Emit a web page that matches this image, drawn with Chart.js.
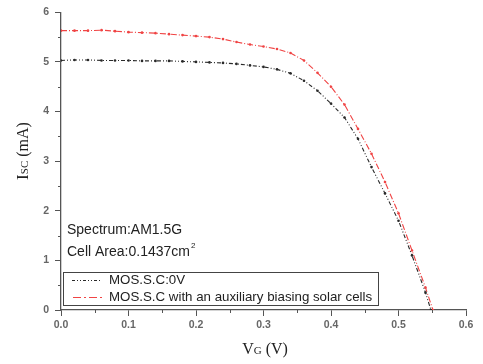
<!DOCTYPE html>
<html>
<head>
<meta charset="utf-8">
<script src="https://cdn.jsdelivr.net/npm/chart.js@4.4.0/dist/chart.umd.min.js"></script>
<style>
  html, body { margin: 0; padding: 0; background: #fff; }
  #wrap { width: 483px; height: 364px; }
</style>
</head>
<body>
<div id="wrap"><canvas id="iv-chart"></canvas></div>
<script>
// ---------------------------------------------------------------------------------------
// data

var v_black = [0, 0.02, 0.04, 0.06, 0.08, 0.10, 0.12, 0.14, 0.16, 0.18, 0.20, 0.22, 0.24, 0.26, 0.28, 0.30, 0.32, 0.34, 0.36, 0.38, 0.40, 0.42, 0.44, 0.46, 0.48, 0.50, 0.52, 0.54, 0.548];
var i_black = [5.03, 5.04, 5.04, 5.03, 5.03, 5.03, 5.02, 5.02, 5.02, 5.01, 5.00, 4.99, 4.98, 4.96, 4.93, 4.90, 4.85, 4.77, 4.62, 4.42, 4.16, 3.88, 3.45, 2.88, 2.35, 1.80, 1.10, 0.35, 0];

var v_red = [0, 0.02, 0.04, 0.06, 0.08, 0.10, 0.12, 0.14, 0.16, 0.18, 0.20, 0.22, 0.24, 0.26, 0.28, 0.30, 0.32, 0.34, 0.36, 0.38, 0.40, 0.42, 0.44, 0.46, 0.48, 0.50, 0.52, 0.54, 0.551];
var i_red = [5.63, 5.63, 5.63, 5.64, 5.62, 5.60, 5.59, 5.58, 5.56, 5.54, 5.52, 5.50, 5.46, 5.40, 5.35, 5.31, 5.26, 5.18, 5.03, 4.78, 4.50, 4.14, 3.65, 3.15, 2.58, 1.95, 1.20, 0.45, 0];

var legend_labels = ["MOS.S.C:0V", "MOS.S.C with an auxiliary biasing solar cells"];
var info_lines = ["Spectrum:AM1.5G", "Cell Area:0.1437cm"];

function toPoints(xs, ys) {
  var out = [];
  for (var k = 0; k < xs.length; k++) out.push({x: xs[k], y: ys[k]});
  return out;
}

var black = '#2a2a2a';
var red = '#f04444';
var axisColor = '#555';

// major ticks long, minor ticks hidden here and drawn short by the plugin
function tickColor(ctx) { return ctx.index % 2 ? 'rgba(0,0,0,0)' : axisColor; }

// ---------------------------------------------------------------------------------------
// minor ticks, titles, notes and legend box

var extras = {
  id: 'extras',
  afterDraw: function(chart) {
    var c = chart.ctx;
    var xs = chart.scales.x, ys = chart.scales.y;
    var area = chart.chartArea;
    c.save();

    // minor ticks
    c.strokeStyle = axisColor;
    c.lineWidth = 1;
    c.beginPath();
    xs.ticks.forEach(function(t, k){
      if (k % 2) { var px = Math.round(xs.getPixelForValue(t.value)) + 0.5; c.moveTo(px, area.bottom); c.lineTo(px, area.bottom + 3); }
    });
    ys.ticks.forEach(function(t, k){
      if (k % 2) { var py = Math.round(ys.getPixelForValue(t.value)) + 0.5; c.moveTo(area.left, py); c.lineTo(area.left - 3, py); }
    });
    c.stroke();

    c.fillStyle = '#222';
    c.textBaseline = 'alphabetic';

    // y title: I_SC (mA)
    c.save();
    c.translate(28, 151);
    c.rotate(-Math.PI / 2);
    var parts = [['I', '17px "Liberation Serif"'], ['SC', '11px "Liberation Serif"'], [' (mA)', '16px "Liberation Serif"']];
    var w = 0;
    parts.forEach(function(p){ c.font = p[1]; w += c.measureText(p[0]).width; });
    var x0 = -w / 2;
    parts.forEach(function(p){ c.font = p[1]; c.fillText(p[0], x0, 0); x0 += c.measureText(p[0]).width; });
    c.restore();

    // x title: V_G (V)
    parts = [['V', '16px "Liberation Serif"'], ['G', '11px "Liberation Serif"'], [' (V)', '16px "Liberation Serif"']];
    w = 0;
    parts.forEach(function(p){ c.font = p[1]; w += c.measureText(p[0]).width; });
    x0 = 265 - w / 2;
    parts.forEach(function(p){ c.font = p[1]; c.fillText(p[0], x0, 354); x0 += c.measureText(p[0]).width; });

    // notes
    c.font = '14px "Liberation Sans"';
    c.textBaseline = 'middle';
    c.fillText(info_lines[0], 67, 230);
    c.fillText(info_lines[1], 67, 252);
    var cw = c.measureText(info_lines[1]).width;
    c.font = '8px "Liberation Sans"';
    c.fillText('2', 67 + cw + 1, 246);

    // legend box
    c.strokeStyle = '#444';
    c.lineWidth = 1;
    c.strokeRect(63.5, 272.5, 315, 33);
    c.strokeStyle = black;
    c.setLineDash([3, 2, 1, 2, 1, 2]);
    c.beginPath(); c.moveTo(72, 280.5); c.lineTo(102, 280.5); c.stroke();
    c.strokeStyle = red;
    c.setLineDash([8, 3, 2, 3]);
    c.beginPath(); c.moveTo(73, 297.5); c.lineTo(102, 297.5); c.stroke();
    c.setLineDash([]);
    c.fillStyle = '#222';
    c.font = '13.3px "Liberation Sans"';
    c.fillText(legend_labels[0], 109, 280);
    c.fillText(legend_labels[1], 109, 297);
    c.restore();
  }
};

new Chart(document.getElementById("iv-chart"), {
    type: 'line',
    data: {
      datasets: [
        {
          label: legend_labels[0],
          data: toPoints(v_black, i_black),
          borderColor: black,
          backgroundColor: black,
          borderWidth: 1.1,
          borderDash: [4, 2, 1, 2, 1, 2],
          pointRadius: 1.3,
          pointBorderWidth: 0,
          tension: 0
        },
        {
          label: legend_labels[1],
          data: toPoints(v_red, i_red),
          borderColor: red,
          backgroundColor: red,
          borderWidth: 1.1,
          borderDash: [6, 2, 1, 2],
          pointRadius: 1.3,
          pointBorderWidth: 0,
          tension: 0
        }
      ]
    },
    options: {
      responsive: true,
      maintainAspectRatio: false,
      animation: false,
      layout: {padding: {top: 11, right: 17, left: 0, bottom: 0}},
      scales: {
        x: {
          type: 'linear',
          min: 0, max: 0.6,
          afterFit: function(s){ s.height = 54; },
          afterBuildTicks: function(s){
            var t = [];
            for (var k = 0; k <= 12; k++) t.push({value: k * 0.05});
            s.ticks = t;
          },
          grid: {drawOnChartArea: false, drawTicks: true, tickLength: 6, color: tickColor, lineWidth: 1},
          border: {display: true, color: axisColor, width: 1.3},
          ticks: {
            color: '#666', font: {size: 10.5, weight: 'bold', family: 'Liberation Sans'}, padding: 3,
            maxRotation: 0, autoSkip: false,
            callback: function(val, idx){ return idx % 2 == 0 ? (idx * 0.05).toFixed(1) : ''; }
          }
        },
        y: {
          min: 0, max: 6,
          afterFit: function(s){ s.width = 61; },
          afterBuildTicks: function(s){
            var t = [];
            for (var k = 0; k <= 12; k++) t.push({value: k * 0.5});
            s.ticks = t;
          },
          grid: {drawOnChartArea: false, drawTicks: true, tickLength: 6, color: tickColor, lineWidth: 1},
          border: {display: true, color: axisColor, width: 1.3},
          ticks: {
            color: '#666', font: {size: 10.5, weight: 'bold', family: 'Liberation Sans'}, padding: 6,
            autoSkip: false,
            callback: function(val, idx){ return idx % 2 == 0 ? String(idx / 2) : ''; }
          }
        }
      },
      plugins: {
        legend: {display: false},
        tooltip: {enabled: false}
      }
    },
    plugins: [extras]
});
</script>
</body>
</html>
